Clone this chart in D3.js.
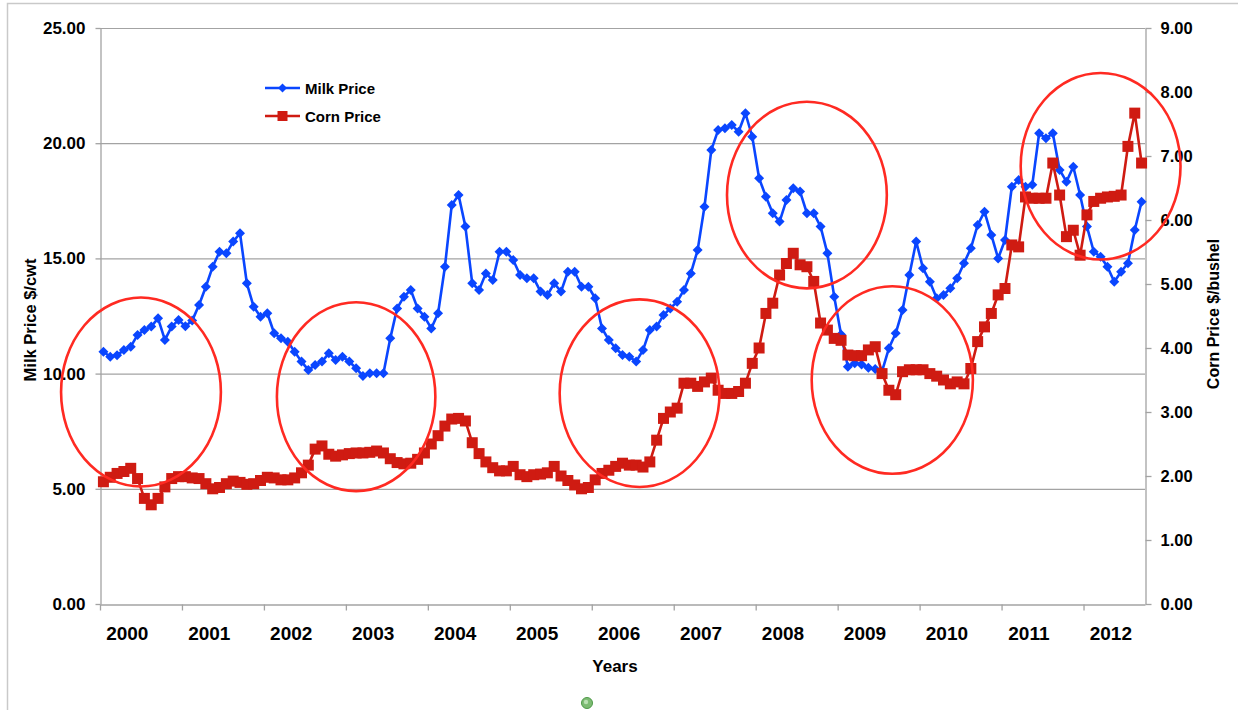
<!DOCTYPE html>
<html>
<head>
<meta charset="utf-8">
<script src="https://cdn.jsdelivr.net/npm/d3@7"></script>
<style>
  html, body { margin: 0; padding: 0; background: #fff; }
  svg { display: block; }
  text { font-family: "Liberation Sans", Arial, Helvetica, sans-serif; font-weight: bold; fill: #000; }
</style>
</head>
<body>
<svg id="chart" width="1238" height="710"></svg>
<script>
// Monthly prices, Jan 2000 – Sep 2012
const years = [2000, 2001, 2002, 2003, 2004, 2005, 2006, 2007, 2008, 2009, 2010, 2011, 2012];
const monthCount = 153;

// Milk price, $/cwt
const milkPrice = [
  10.95, 10.73, 10.80, 11.02, 11.17, 11.68, 11.89, 12.04, 12.40, 11.46, 12.04, 12.33,
  12.05, 12.30, 12.98, 13.77, 14.64, 15.29, 15.22, 15.73, 16.09, 13.92, 12.90, 12.47,
  12.62, 11.75, 11.53, 11.38, 10.95, 10.52, 10.16, 10.37, 10.52, 10.88, 10.59, 10.73,
  10.52, 10.23, 9.90, 10.01, 10.01, 10.01, 11.53, 12.83, 13.34, 13.63, 12.83, 12.47,
  11.96, 12.62, 14.64, 17.32, 17.75, 16.38, 13.92, 13.63, 14.35, 14.06, 15.29, 15.29,
  14.93, 14.28, 14.14, 14.14, 13.56, 13.41, 13.92, 13.56, 14.42, 14.42, 13.77, 13.77,
  13.27, 11.96, 11.46, 11.10, 10.81, 10.73, 10.52, 11.02, 11.89, 12.04, 12.54, 12.83,
  13.12, 13.63, 14.35, 15.36, 17.24, 19.70, 20.57, 20.65, 20.79, 20.50, 21.30, 20.28,
  18.48, 17.68, 16.96, 16.60, 17.53, 18.04, 17.90, 16.96, 16.96, 16.38, 15.22, 13.34,
  11.70, 10.30, 10.45, 10.40, 10.25, 10.20, 10.10, 11.10, 11.75, 12.76, 14.28, 15.73,
  14.57, 13.99, 13.27, 13.41, 13.70, 14.14, 14.79, 15.44, 16.45, 17.03, 16.02, 15.00,
  15.80, 18.11, 18.40, 18.11, 18.20, 20.43, 20.21, 20.43, 18.84, 18.33, 18.98, 17.75,
  16.38, 15.29, 15.07, 14.64, 13.99, 14.42, 14.79, 16.23, 17.46
];

// Corn price, $/bushel
const cornPrice = [
  1.91, 1.98, 2.04, 2.07, 2.12, 1.96, 1.65, 1.55, 1.65, 1.83, 1.96, 1.99,
  1.99, 1.97, 1.96, 1.88, 1.80, 1.82, 1.88, 1.92, 1.90, 1.87, 1.88, 1.93,
  1.98, 1.97, 1.94, 1.94, 1.97, 2.05, 2.17, 2.42, 2.47, 2.34, 2.31, 2.33,
  2.35, 2.36, 2.36, 2.37, 2.39, 2.36, 2.27, 2.21, 2.19, 2.20, 2.26, 2.36,
  2.50, 2.63, 2.78, 2.89, 2.90, 2.86, 2.52, 2.35, 2.22, 2.13, 2.08, 2.08,
  2.15, 2.02, 1.99, 2.02, 2.03, 2.05, 2.15, 2.00, 1.93, 1.86, 1.80, 1.82,
  1.94, 2.04, 2.09, 2.15, 2.20, 2.17, 2.17, 2.14, 2.22, 2.56, 2.90, 3.00,
  3.06, 3.45, 3.45, 3.40, 3.47, 3.53, 3.34, 3.29, 3.29, 3.32, 3.45, 3.76,
  4.00, 4.54, 4.70, 5.14, 5.32, 5.48, 5.30, 5.27, 5.04, 4.39, 4.28, 4.15,
  4.12, 3.89, 3.88, 3.88, 3.97, 4.02, 3.60, 3.34, 3.27, 3.63, 3.66, 3.66,
  3.66, 3.60, 3.56, 3.50, 3.44, 3.47, 3.44, 3.68, 4.10, 4.33, 4.54, 4.83,
  4.93, 5.61, 5.58, 6.36, 6.34, 6.34, 6.34, 6.89, 6.39, 5.74, 5.84, 5.45,
  6.08, 6.29, 6.34, 6.36, 6.37, 6.39, 7.15, 7.67, 6.89
];

const milkTicks = [0, 5, 10, 15, 20, 25];
const cornTicks = [0, 1, 2, 3, 4, 5, 6, 7, 8, 9];

// Highlighted periods: centre month index, centre milk value, radii in months / $cwt
const highlights = [
  { month: 5.5,  milk: 9.2,  rMonths: 11.7, rMilk: 4.1 },
  { month: 37.0, milk: 9.0,  rMonths: 11.6, rMilk: 4.1 },
  { month: 78.5, milk: 9.15, rMonths: 11.7, rMilk: 4.07 },
  { month: 103.0, milk: 17.75, rMonths: 11.7, rMilk: 4.05 },
  { month: 115.5, milk: 9.72, rMonths: 11.8, rMilk: 4.07 },
  { month: 146.0, milk: 19.0, rMonths: 11.7, rMilk: 4.05 }
];

const months = d3.range(monthCount).map(i => {
  const y = years[0] + Math.floor(i / 12);
  const m = (i % 12) + 1;
  return y + "-" + String(m).padStart(2, "0");
});

const svg = d3.select("#chart");
const plot = { left: 100, right: 1145, top: 28, bottom: 604 };

const x = d3.scaleBand().domain(months).range([plot.left, plot.right]).padding(0);
const cx = i => x(months[i]) + x.bandwidth() / 2;
const yMilk = d3.scaleLinear().domain([0, 25]).range([plot.bottom, plot.top]);
const yCorn = d3.scaleLinear().domain([0, 9]).range([plot.bottom, plot.top]);

const axisGray = "#a3a3a3";
const milkBlue = "#0a46ff";
const cornRed = "#cf1b12";
const ringRed = "#ff2a22";

// Outer frame
svg.append("path")
  .attr("d", "M7.5,710 V3.5 H1238")
  .attr("fill", "none").attr("stroke", "#c9c9c9").attr("stroke-width", 1.5);

// Horizontal grid lines
svg.append("g").selectAll("line").data(milkTicks.filter(d => d > 0)).join("line")
  .attr("x1", plot.left).attr("x2", plot.right)
  .attr("y1", d => yMilk(d) + 0.5).attr("y2", d => yMilk(d) + 0.5)
  .attr("stroke", axisGray).attr("stroke-width", 1.2);

// Left axis (milk)
const gLeft = svg.append("g").attr("transform", `translate(${plot.left + 0.5},0)`)
  .call(d3.axisLeft(yMilk).tickValues(milkTicks).tickFormat(d3.format(".2f"))
    .tickSize(5).tickPadding(10).tickSizeOuter(0));
// Right axis (corn)
const gRight = svg.append("g").attr("transform", `translate(${plot.right + 0.5},0)`)
  .call(d3.axisRight(yCorn).tickValues(cornTicks).tickFormat(d3.format(".2f"))
    .tickSize(6).tickPadding(9).tickSizeOuter(0));
// Bottom axis: one tick per year boundary
const yearStarts = years.map((yv, k) => months[k * 12]);
const gBottom = svg.append("g").attr("transform", `translate(0,${plot.bottom + 0.5})`)
  .call(d3.axisBottom(x).tickValues(yearStarts).tickFormat("").tickSize(6).tickSizeOuter(0));
gBottom.selectAll(".tick").attr("transform", d => `translate(${x(d) + 0.5},0)`);

[gLeft, gRight, gBottom].forEach(g => {
  g.selectAll(".domain").attr("stroke", axisGray).attr("stroke-width", 1.3);
  g.selectAll(".tick line").attr("stroke", axisGray).attr("stroke-width", 1.3);
  g.selectAll(".tick text")
    .style("font-family", '"Liberation Sans", Arial, sans-serif')
    .style("font-weight", "bold").attr("fill", "#000");
});
gLeft.selectAll(".tick text").style("font-size", "17px");
gRight.selectAll(".tick text").style("font-size", "16.5px");

// Year labels sit a third of the way into each year
svg.append("g").selectAll("text").data(years).join("text")
  .attr("x", (yv, k) => x(months[k * 12 + 4]))
  .attr("y", 640)
  .attr("text-anchor", "middle")
  .style("font-size", "19px")
  .text(d => d);

// Axis titles
svg.append("text").attr("x", 615).attr("y", 672).attr("text-anchor", "middle")
  .style("font-size", "17px").text("Years");
svg.append("text").attr("transform", "translate(36,320) rotate(-90)")
  .attr("text-anchor", "middle").style("font-size", "16.5px").text("Milk Price $/cwt");
svg.append("text").attr("transform", "translate(1219,314) rotate(-90)")
  .attr("text-anchor", "middle").style("font-size", "16px").text("Corn Price $/bushel");

// Marker shapes
const diamond = (r) => `M0,${-r}L${r},0L0,${r}L${-r},0Z`;
const square = (h) => `M${-h},${-h}H${h}V${h}H${-h}Z`;

// Milk series
const milkLine = d3.line().x((d, i) => cx(i)).y(d => yMilk(d));
svg.append("path").datum(milkPrice).attr("d", milkLine)
  .attr("fill", "none").attr("stroke", milkBlue).attr("stroke-width", 2.6)
  .attr("stroke-linejoin", "round");
svg.append("g").selectAll("path").data(milkPrice).join("path")
  .attr("transform", (d, i) => `translate(${cx(i)},${yMilk(d)})`)
  .attr("d", diamond(5)).attr("fill", milkBlue);

// Corn series
const cornLine = d3.line().x((d, i) => cx(i)).y(d => yCorn(d));
svg.append("path").datum(cornPrice).attr("d", cornLine)
  .attr("fill", "none").attr("stroke", cornRed).attr("stroke-width", 2.6)
  .attr("stroke-linejoin", "round");
svg.append("g").selectAll("path").data(cornPrice).join("path")
  .attr("transform", (d, i) => `translate(${cx(i)},${yCorn(d)})`)
  .attr("d", square(5.5)).attr("fill", cornRed);

// Legend
const legend = svg.append("g").attr("transform", "translate(265,88)");
legend.append("line").attr("x1", 0).attr("x2", 35).attr("y1", 0).attr("y2", 0)
  .attr("stroke", milkBlue).attr("stroke-width", 2.6);
legend.append("path").attr("transform", "translate(17.5,0)").attr("d", diamond(4.5)).attr("fill", milkBlue);
legend.append("text").attr("x", 40).attr("y", 5.5).style("font-size", "15px").text("Milk Price");
legend.append("line").attr("x1", 0).attr("x2", 35).attr("y1", 28).attr("y2", 28)
  .attr("stroke", cornRed).attr("stroke-width", 2.6);
legend.append("path").attr("transform", "translate(17.5,28)").attr("d", square(5)).attr("fill", cornRed);
legend.append("text").attr("x", 40).attr("y", 33.5).style("font-size", "15px").text("Corn Price");

// Highlight rings
const monthPx = x.bandwidth();
svg.append("g").selectAll("ellipse").data(highlights).join("ellipse")
  .attr("cx", d => plot.left + (d.month + 0.5) * monthPx)
  .attr("cy", d => yMilk(d.milk))
  .attr("rx", d => d.rMonths * monthPx)
  .attr("ry", d => yMilk(0) - yMilk(d.rMilk))
  .attr("fill", "none").attr("stroke", ringRed).attr("stroke-width", 2.6);

// Small status dot under the chart
const dot = svg.append("g").attr("transform", "translate(587,703)");
dot.append("circle").attr("r", 5.5).attr("fill", "#7dbb73").attr("stroke", "#4e9a48").attr("stroke-width", 1);
dot.append("circle").attr("r", 2.2).attr("cx", -1).attr("cy", -1).attr("fill", "#b9e0b2");
</script>
</body>
</html>
